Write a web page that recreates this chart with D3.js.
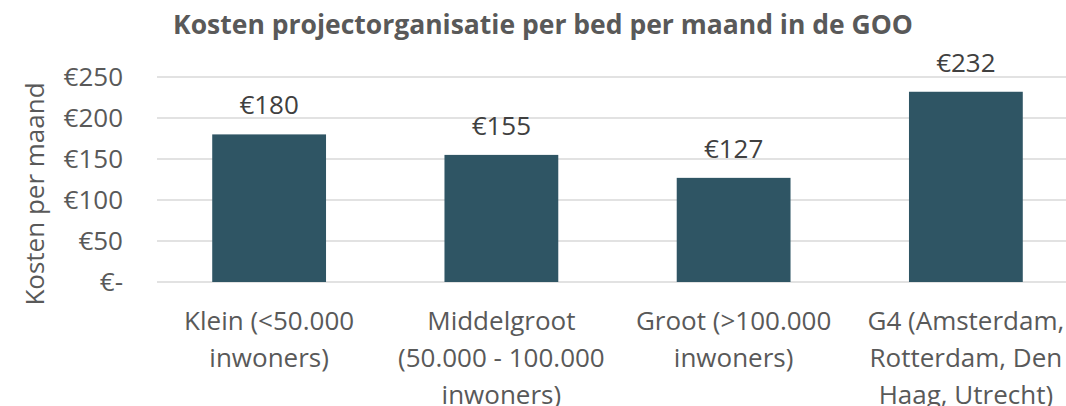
<!DOCTYPE html>
<html>
<head>
<meta charset="utf-8">
<script src="https://cdn.jsdelivr.net/npm/d3@7"></script>
<style>
  body { margin: 0; background: #fff; overflow: hidden; }
  svg { font-family: "Open Sans", sans-serif; display: block; }
</style>
</head>
<body>
<svg id="chart"></svg>
<script>
// data
var categories = [
    ["Klein (<50.000", "inwoners)"],
    ["Middelgroot", "(50.000 - 100.000", "inwoners)"],
    ["Groot (>100.000", "inwoners)"],
    ["G4 (Amsterdam,", "Rotterdam, Den", "Haag, Utrecht)"]
];
var values = [180, 155, 127, 232];
var yTicks = [0, 50, 100, 150, 200, 250];
var yTickLabels = ["€-", "€50", "€100", "€150", "€200", "€250"];

var width = 1066, height = 406;

var svg = d3.select("#chart")
    .attr("width", width)
    .attr("height", height);

var y = d3.scaleLinear()
    .domain([0, 250])
    .range([282, 77]);

// band scale runs past the right edge, the picture is cut off there
var x = d3.scaleBand()
    .domain(d3.range(categories.length))
    .range([153, 1082])
    .paddingInner(0.51)
    .paddingOuter(0.255);

// gridlines
svg.append("g")
    .selectAll("line")
    .data(yTicks)
    .enter().append("line")
    .attr("x1", 157)
    .attr("x2", width)
    .attr("y1", function(d) { return y(d); })
    .attr("y2", function(d) { return y(d); })
    .attr("stroke", "#d9d9d9")
    .attr("stroke-width", 1.5);

// y tick labels
svg.append("g")
    .selectAll("text")
    .data(yTicks)
    .enter().append("text")
    .attr("x", 123)
    .attr("y", function(d) { return y(d); })
    .attr("dy", "0.35em")
    .attr("text-anchor", "end")
    .attr("font-size", 26)
    .attr("fill", "#595959")
    .text(function(d, i) { return yTickLabels[i]; });

// bars
svg.append("g")
    .selectAll("rect")
    .data(values)
    .enter().append("rect")
    .attr("x", function(d, i) { return x(i); })
    .attr("width", x.bandwidth())
    .attr("y", function(d) { return y(d); })
    .attr("height", function(d) { return y(0) - y(d); })
    .attr("fill", "#2f5564");

// value labels
svg.append("g")
    .selectAll("text")
    .data(values)
    .enter().append("text")
    .attr("x", function(d, i) { return x(i) + x.bandwidth() / 2; })
    .attr("y", function(d) { return y(d) - 20; })
    .attr("text-anchor", "middle")
    .attr("font-size", 26)
    .attr("fill", "#404040")
    .text(function(d) { return "€" + d; });

// category labels
var cat = svg.append("g")
    .selectAll("text")
    .data(categories)
    .enter().append("text")
    .attr("x", function(d, i) { return x(i) + x.bandwidth() / 2; })
    .attr("y", 330)
    .attr("text-anchor", "middle")
    .attr("font-size", 26)
    .attr("fill", "#595959");

cat.selectAll("tspan")
    .data(function(d) { return d; })
    .enter().append("tspan")
    .attr("x", function() { return d3.select(this.parentNode).attr("x"); })
    .attr("dy", function(d, i) { return i == 0 ? 0 : 37; })
    .text(function(d) { return d; });

// y axis title
svg.append("text")
    .attr("transform", "translate(44,194) rotate(-90)")
    .attr("text-anchor", "middle")
    .attr("font-size", 26)
    .attr("fill", "#595959")
    .text("Kosten per maand");

// title
svg.append("text")
    .attr("x", 543)
    .attr("y", 34)
    .attr("text-anchor", "middle")
    .attr("font-size", 26.5)
    .attr("font-weight", "bold")
    .attr("fill", "#595959")
    .text("Kosten projectorganisatie per bed per maand in de GOO");
</script>
</body>
</html>
